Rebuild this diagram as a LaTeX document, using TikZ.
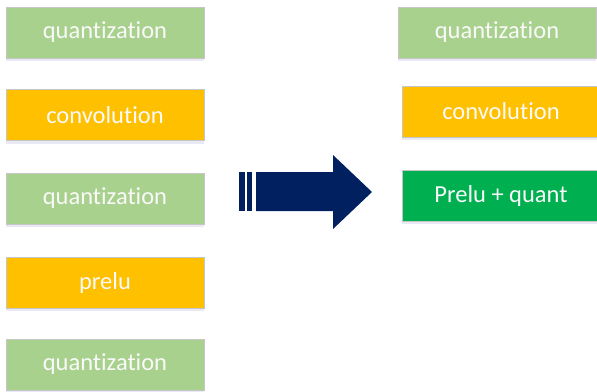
\documentclass[tikz,border=0pt]{standalone}
\usepackage{fontspec}
\setmainfont{Carlito}[Ligatures=NoCommon]
\usetikzlibrary{shadows}
\definecolor{qgreen}{RGB}{169,209,142}
\definecolor{corange}{RGB}{255,192,0}
\definecolor{fgreen}{RGB}{0,176,80}
\definecolor{navy}{RGB}{0,32,96}
\tikzset{
  layer/.style={draw=gray!45, line width=0.8pt, text=white!95!gray, font=\fontsize{24.5}{28}\selectfont,
    minimum width=198pt, minimum height=51pt, inner sep=0pt,
    drop shadow={shadow xshift=0pt, shadow yshift=-3pt, opacity=0.12, fill=blue!40!gray}},
  quant/.style={layer, fill=qgreen},
  conv/.style={layer, fill=corange},
  fused/.style={layer, fill=fgreen}
}

\begin{document}
\begin{tikzpicture}[x=1pt, y=-1pt]
%      \draw [help lines, opacity=0.5] (0,0) grid[step=50] (597,391);
      \useasboundingbox (0,0) rectangle (597,391);
      \clip (0,0) rectangle (597,391);
      % original graph
      \node [quant] (q1) at (105,32.5) {quantization};
      \node [conv] (conv) at (105,115) {convolution};
      \node [quant] (q2) at (105,198.5) {quantization};
      \node [conv] (prelu) at (105,282.5) {prelu};
      \node [quant] (q3) at (105,364.5) {quantization};

      % block arrow
      \fill [navy] (239,172) rectangle (245,211);
      \fill [navy] (247,172) rectangle (252,211);
      \fill [navy] (256,172) -- (333,172) -- (333,155) -- (372,192)
        -- (333,229) -- (333,211) -- (256,211) -- cycle;

      % fused graph
      \node [quant] (rq) at (497,32.5) {quantization};
      \node [conv] (rconv) at (501,111.5) {convolution};
      \node [fused] (rprelu) at (501,195.5) {Prelu + quant};
\end{tikzpicture}
\end{document}
